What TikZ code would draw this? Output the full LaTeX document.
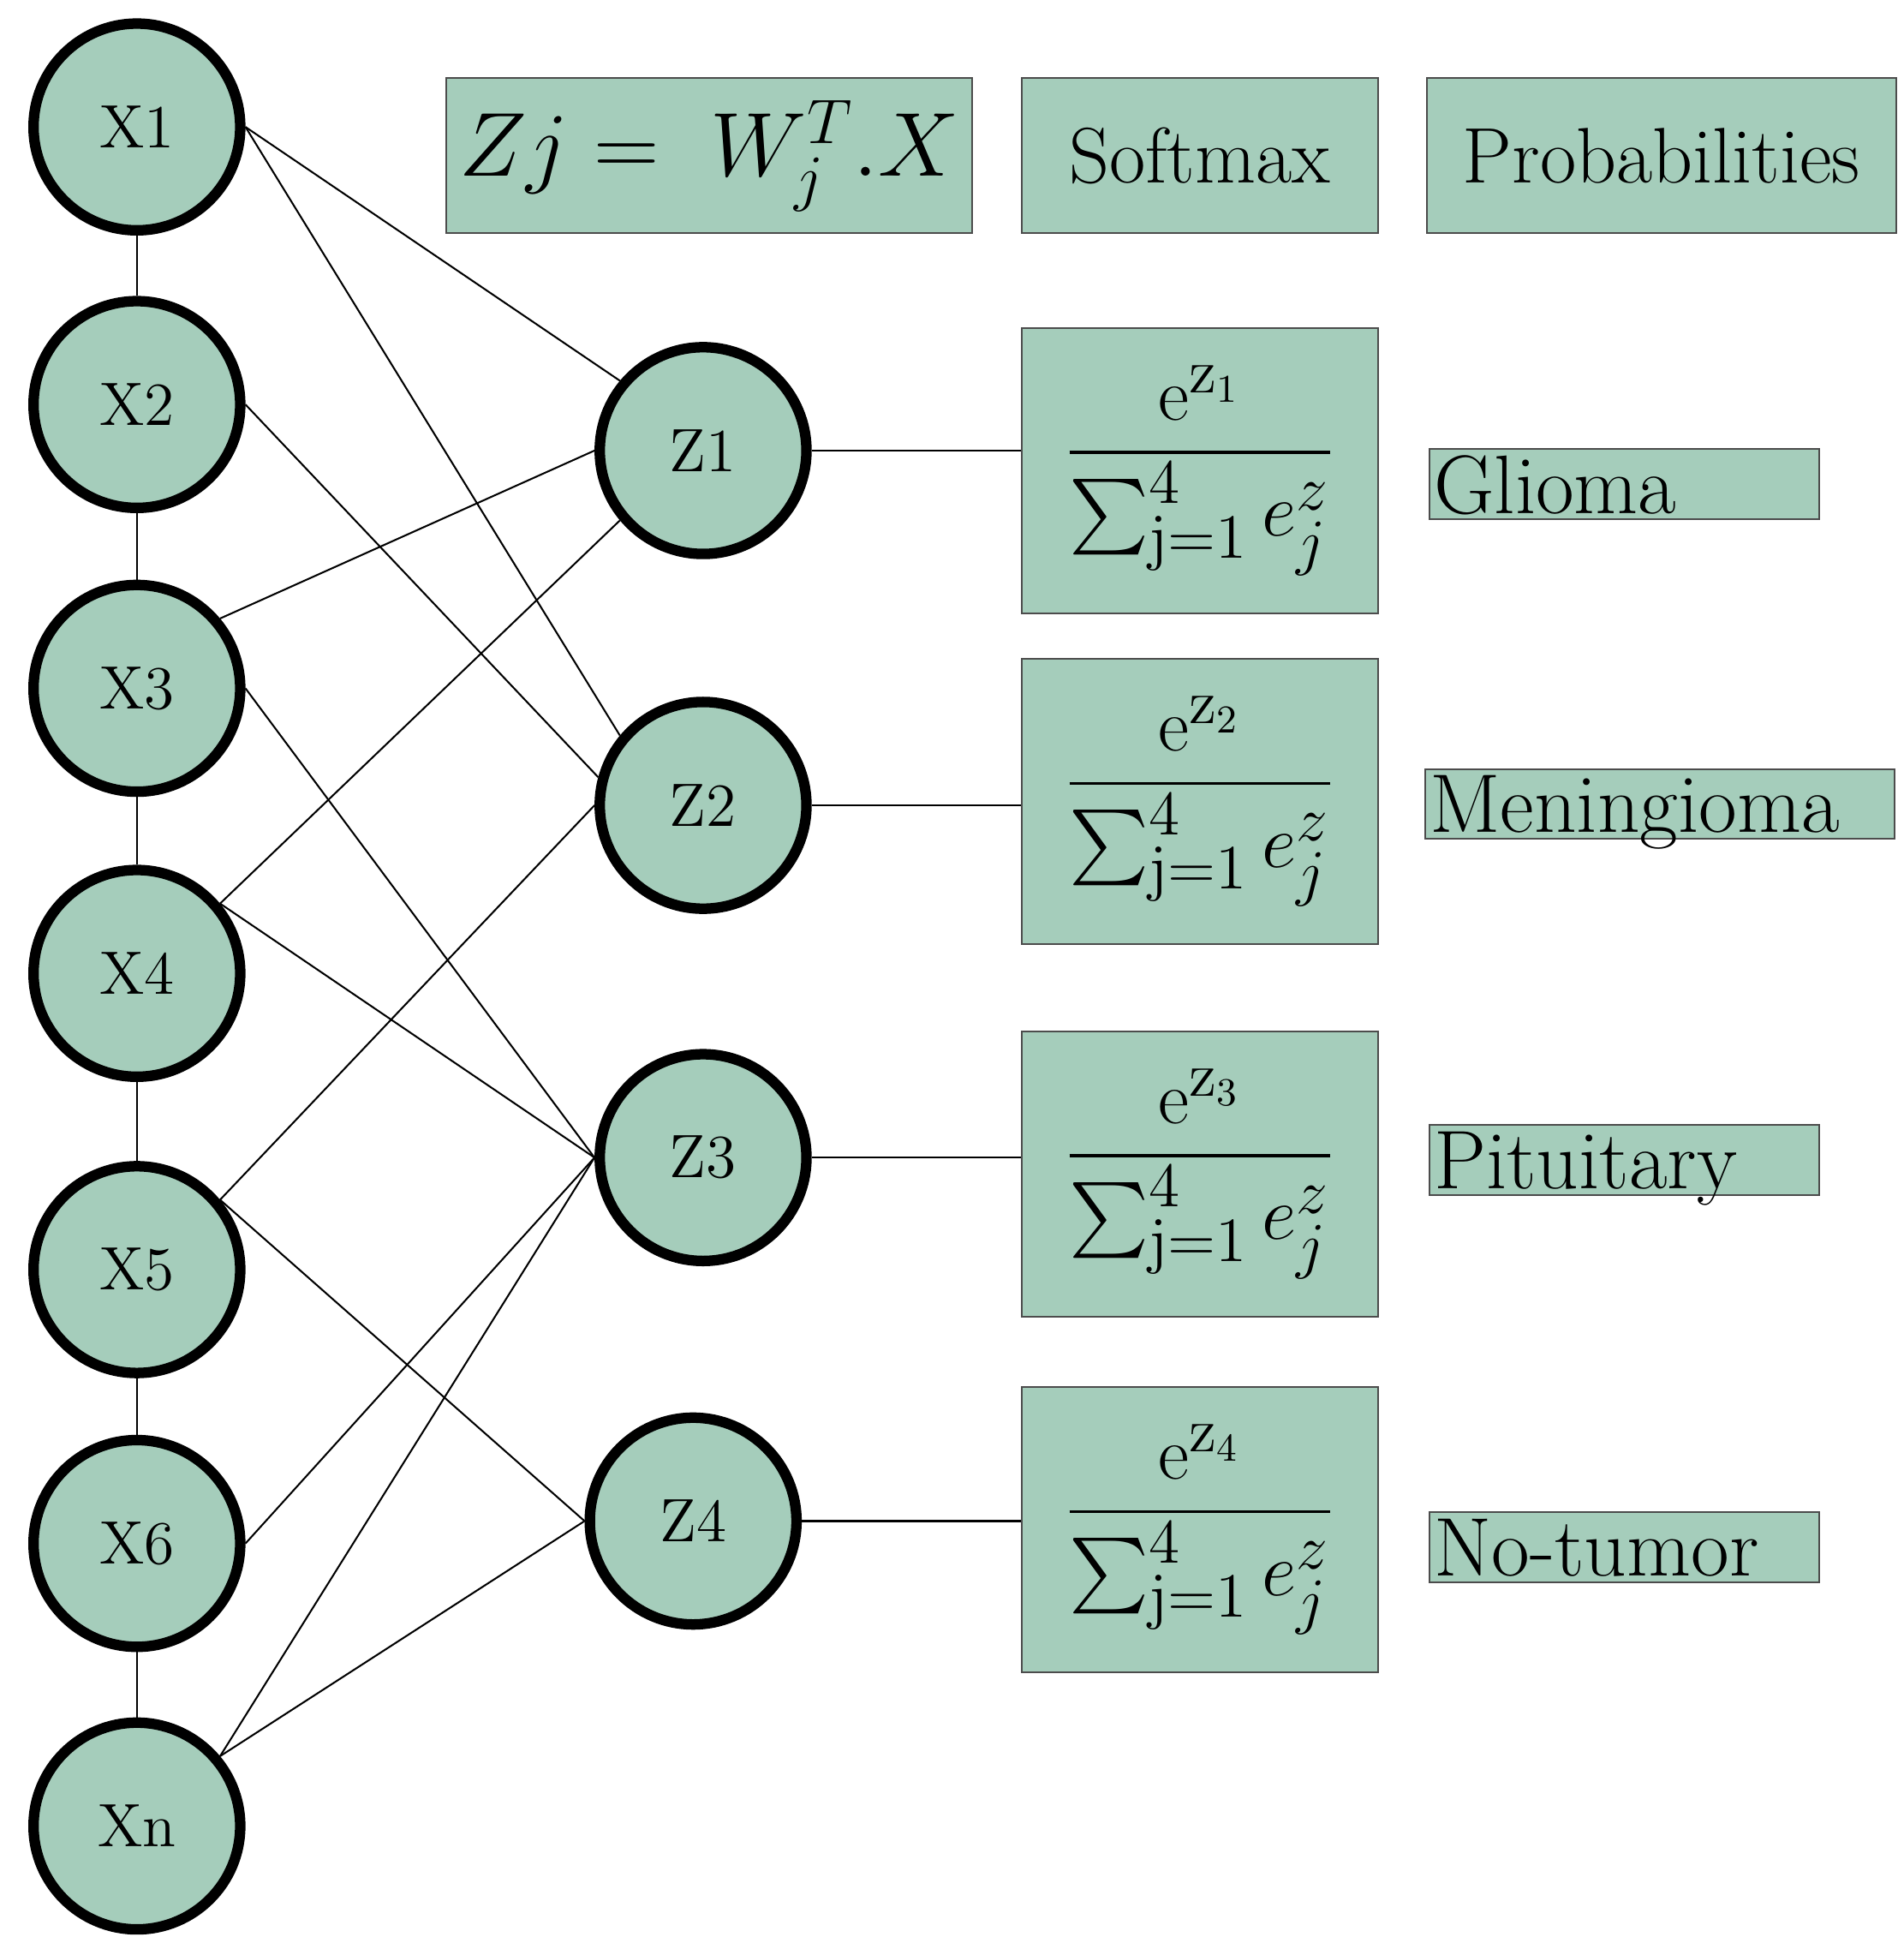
\documentclass[tikz,border=0pt]{standalone}
\usepackage{amsmath}
\usetikzlibrary{positioning}
\definecolor{sage}{HTML}{A5CDBB}
\begin{document}
\begin{tikzpicture}
[x=0.01cm,y=-0.01cm,
 neuron/.style={shape=circle,draw,line width=2.4pt,fill=sage,minimum size=1.66cm,inner sep=0pt,font=\fontsize{14}{17}\selectfont},
 head/.style={shape=rectangle,draw=black!70,fill=sage,minimum height=1.25cm,inner sep=0pt,font=\fontsize{18}{22}\selectfont},
 soft/.style={shape=rectangle,draw=black!70,fill=sage,minimum width=2.86cm,minimum height=2.29cm,inner sep=0pt,font=\fontsize{19}{23}\selectfont},
 class/.style={shape=rectangle,draw=black!70,fill=sage,minimum height=0.56cm,inner sep=1pt,text depth=0pt,font=\fontsize{19}{22}\selectfont},
 wire/.style={thin}]

\useasboundingbox (0,0) rectangle (1530,1561);

% input layer
\node (x1) [neuron] at (110,102) {X1};
\node (x2) [neuron] at (110,325) {X2};
\node (x3) [neuron] at (110,553) {X3};
\node (x4) [neuron] at (110,782) {X4};
\node (x5) [neuron] at (110,1020) {X5};
\node (x6) [neuron] at (110,1240) {X6};
\node (xn) [neuron] at (110,1467) {Xn};

% output layer
\node (z1) [neuron] at (565,362) {Z1};
\node (z2) [neuron] at (565,647) {Z2};
\node (z3) [neuron] at (565,930) {Z3};
\node (z4) [neuron] at (557,1222) {Z4};

% headers
\node (hz) [head,minimum width=4.22cm] at (570,125) {\fontsize{20}{24}\selectfont$Zj =\ W_j^T.X$};
\node (hs) [head,minimum width=2.86cm] at (964,125) {Softmax};
\node (hp) [head,minimum width=3.77cm] at (1335,125) {Probabilities};

% softmax boxes
\foreach \i/\y in {1/378,2/644,3/943,4/1229}
  \node (s\i) [soft] at (964,\y) {$\dfrac{\mathrm{e}^{\mathrm{z}_{\i}}}{\sum_{\mathrm{j=1}}^{4} e_j^{z}}$};

% classes
\node (c1) [class,minimum width=3.13cm,text width=3.05cm] at (1305,389) {Glioma};
\node (c2) [class,minimum width=3.76cm,text width=3.7cm] at (1334,646) {Meningioma};
\node (c3) [class,minimum width=3.13cm,text width=3.05cm] at (1305,932) {Pituitary};
\node (c4) [class,minimum width=3.13cm,text width=3.05cm] at (1305,1243) {No-tumor};

% vertical chain
\foreach \a/\b in {x1/x2,x2/x3,x3/x4,x4/x5,x5/x6,x6/xn}
  \draw [wire] (\a) -- (\b);

% connections
\draw [wire] (x1.east) -- (z1.140);
\draw [wire] (x1.east) -- (z2.140);
\draw [wire] (x2.east) -- (z2.165);
\draw [wire] (x3.40) -- (z1.west);
\draw [wire] (x3.east) -- (z3.west);
\draw [wire] (x4.40) -- (z1.220);
\draw [wire] (x4.40) -- (z3.west);
\draw [wire] (x5.40) -- (z2.west);
\draw [wire] (x5.40) -- (z4.west);
\draw [wire] (x6.east) -- (z3.west);
\draw [wire] (xn.40) -- (z3.west);
\draw [wire] (xn.40) -- (z4.west);

\foreach \i in {1,2,3,4}
  \draw [wire] (z\i.east) -- (z\i.east -| s\i.west);

\end{tikzpicture}
\end{document}
